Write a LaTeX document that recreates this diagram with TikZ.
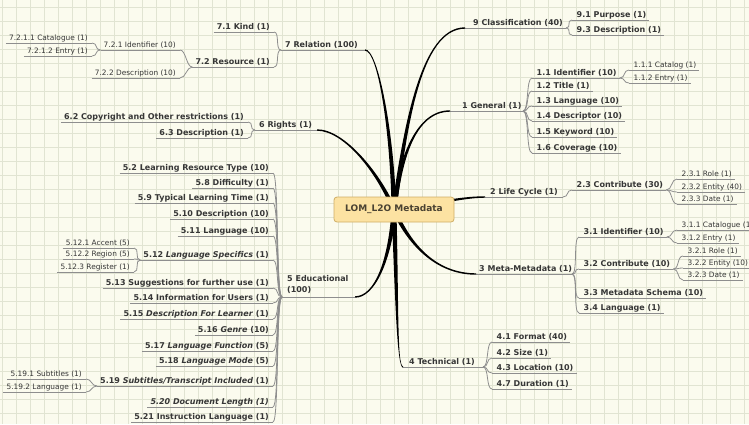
\documentclass[tikz,border=0pt]{standalone}
\usepackage{fontspec}
\setmainfont{DejaVu Sans}
\definecolor{paper}{HTML}{FBFBEE}
\definecolor{gridc}{HTML}{E1E4D2}
\definecolor{ink}{HTML}{363636}
\definecolor{wire}{HTML}{8E8E8E}
\definecolor{boxfill}{HTML}{FCE2A2}
\definecolor{boxedge}{HTML}{CFAE66}
\definecolor{boxtext}{HTML}{4A4232}

\tikzset{
  big/.style={font=\bfseries\fontsize{8}{11}\selectfont, text=ink, inner sep=0pt, yshift=1pt},
  small/.style={font=\fontsize{7.4}{8}\selectfont, text=ink, inner sep=0pt, yshift=0.2pt},
  uline/.style={draw=wire, line width=0.8pt},
  conn/.style={draw=wire, line width=0.8pt},
  trunk/.style={fill=black},
  gridline/.style={draw=gridc, line width=0.5pt},
  rootbox/.style={draw=boxedge, fill=boxfill, rounded corners=3pt, line width=0.8pt,
    minimum width=120pt, minimum height=25pt, inner sep=0pt,
    font=\bfseries\fontsize{9}{11}\selectfont, text=boxtext}
}

% main topic: name, left end, right end, y, text x, text
\newcommand\mainT[6]{%
  \coordinate (#1-L) at (#2,#4);
  \coordinate (#1-R) at (#3,#4);
  \draw[uline] (#1-L) -- (#1-R);
  \node[big, anchor=base west] (#1) at (#5,#4-2) {#6};}
% topic on the left: name, right end, y, style, text
\newcommand\leftT[5]{%
  \coordinate (#1-R) at (#2,#3);
  \node[#4, anchor=base east] (#1) at (#2-4,#3-2) {#5};
  \path (#1.west |- #1-R) ++(-3,0) coordinate (#1-L);
  \draw[uline] (#1-L) -- (#1-R);}
% topic on the right: name, left end, y, style, text
\newcommand\rightT[5]{%
  \coordinate (#1-L) at (#2,#3);
  \node[#4, anchor=base west] (#1) at (#2+4.5,#3-2) {#5};
  \path (#1.east |- #1-L) ++(3,0) coordinate (#1-R);
  \draw[uline] (#1-L) -- (#1-R);}
% grey connectors
\newcommand\linkL[2]{\draw[conn] (#1) .. controls +(-6,0) and +(6,0) .. (#2);}
\newcommand\linkR[2]{\draw[conn] (#1) .. controls +(6,0) and +(-6,0) .. (#2);}
% tapered main branch: start, ctrl1, ctrl2, end, start dx, start dy, end half width (signed)
\newcommand\branch[7]{%
  \coordinate (bA) at (#2);
  \coordinate (bB) at (#3);
  \pgfmathsetmacro\sxp{#5}\pgfmathsetmacro\sxn{0-(#5)}%
  \pgfmathsetmacro\syp{#6}\pgfmathsetmacro\syn{0-(#6)}%
  \pgfmathsetmacro\cxp{0.75*(#5)}\pgfmathsetmacro\cxn{0-0.75*(#5)}%
  \pgfmathsetmacro\cyp{0.75*(#6)}\pgfmathsetmacro\cyn{0-0.75*(#6)}%
  \pgfmathsetmacro\eyp{#7}\pgfmathsetmacro\eyn{0-(#7)}%
  \pgfmathsetmacro\fyp{1.3*(#7)}\pgfmathsetmacro\fyn{0-1.3*(#7)}%
  \fill[trunk] ([shift={(\sxp,\syp)}]#1) .. controls ([shift={(\cxp,\cyp)}]bA) and ([yshift=\fyp pt]bB)
     .. ([yshift=\eyp pt]#4) -- ([yshift=\eyn pt]#4) .. controls ([yshift=\fyn pt]bB) and ([shift={(\cxn,\cyn)}]bA)
     .. ([shift={(\sxn,\syn)}]#1) -- cycle;}

\begin{document}
\begin{tikzpicture}[x=1pt, y=-1pt]
\fill[paper] (0,0) rectangle (749,424);
\useasboundingbox (0,0) rectangle (749,424);
\foreach \gx in {2,16,...,744} \draw[gridline] (\gx,0) -- (\gx,424);
\foreach \gy in {7,21,...,420} \draw[gridline] (0,\gy) -- (749,\gy);

% ---------- main topics ----------
\mainT{t7}{281}{365}{50}{285}{7 Relation (100)}
\mainT{t6}{255}{317}{130}{259}{6 Rights (1)}
\coordinate (t5-L) at (282,297);
\coordinate (t5-R) at (355,297);
\draw[uline] (t5-L) -- (t5-R);
\node[big, align=left, anchor=south west] (t5) at (287,295) {5 Educational\\(100)};
\mainT{t9}{465}{566}{28}{473}{9 Classification (40)}
\mainT{t1}{450}{523}{111}{462}{1 General (1)}
\mainT{t2}{485}{563}{197}{490}{2 Life Cycle (1)}
\mainT{t3}{476}{572}{274}{479}{3 Meta-Metadata (1)}
\mainT{t4}{403}{483}{367}{409}{4 Technical (1)}

% ---------- thick branches from the root ----------
\coordinate (hub) at (394,210);
\branch{hub}{392,130}{378,50}{t7-R}{2.4}{0}{0.7}
\branch{hub}{380,175}{345,130}{t6-R}{2.4}{0}{0.7}
\branch{hub}{390,260}{375,297}{t5-R}{2.4}{0}{-0.7}
\branch{hub}{405,130}{420,28}{t9-L}{2.4}{0}{-0.7}
\branch{hub}{400,160}{415,111}{t1-L}{2.4}{0}{-0.7}
\branch{hub}{412,250}{440,274}{t3-L}{2.4}{0}{0.7}
\branch{hub}{397,300}{397,367}{t4-L}{2.4}{0}{0.7}
\branch{hub}{430,205}{460,197}{t2-L}{0}{2.2}{-0.7}

\node[rootbox] (root) at (394,209.5) {LOM\_L2O Metadata};

% ---------- 7 Relation ----------
\leftT{t71}{274}{32}{big}{7.1 Kind (1)}
\leftT{t72}{274}{67}{big}{7.2 Resource (1)}
\leftT{t721}{180}{50}{small}{7.2.1 Identifier (10)}
\leftT{t722}{180}{78}{small}{7.2.2 Description (10)}
\leftT{t7211}{92}{43}{small}{7.2.1.1 Catalogue (1)}
\leftT{t7212}{92}{56}{small}{7.2.1.2 Entry (1)}
\linkL{t7-L}{t71-R}
\linkL{t7-L}{t72-R}
\linkL{t72-L}{t721-R}
\linkL{t72-L}{t722-R}
\linkL{t721-L}{t7211-R}
\linkL{t721-L}{t7212-R}

% ---------- 6 Rights ----------
\leftT{t62}{248}{122}{big}{6.2 Copyright and Other restrictions (1)}
\leftT{t63}{248}{138}{big}{6.3 Description (1)}
\linkL{t6-L}{t62-R}
\linkL{t6-L}{t63-R}

% ---------- 5 Educational ----------
\leftT{t52}{273}{173}{big}{5.2 Learning Resource Type (10)}
\leftT{t58}{273}{188}{big}{5.8 Difficulty (1)}
\leftT{t59}{273}{203}{big}{5.9 Typical Learning Time (1)}
\leftT{t510}{273}{219}{big}{5.10 Description (10)}
\leftT{t511}{273}{236}{big}{5.11 Language (10)}
\leftT{t512}{273}{260}{big}{5.12 \textit{Language Specifics} (1)}
\leftT{t513}{273}{288}{big}{5.13 Suggestions for further use (1)}
\leftT{t514}{273}{303}{big}{5.14 Information for Users (1)}
\leftT{t515}{273}{319}{big}{5.15 \textit{Description For Learner} (1)}
\leftT{t516}{273}{335}{big}{5.16 \textit{Genre} (10)}
\leftT{t517}{273}{351}{big}{5.17 \textit{Language Function} (5)}
\leftT{t518}{273}{366}{big}{5.18 \textit{Language Mode} (5)}
\leftT{t519}{273}{386}{big}{5.19 \textit{Subtitles/Transcript Included} (1)}
\leftT{t520}{273}{407}{big}{\textit{5.20 Document Length (1)}}
\leftT{t521}{273}{422}{big}{5.21 Instruction Language (1)}
\foreach \c in {t52,t58,t59,t510,t511,t512,t513,t514,t515,t516,t517,t518,t519,t520,t521}
  {\linkL{t5-L}{\c-R}}
\leftT{t5121}{134}{248}{small}{5.12.1 Accent (5)}
\leftT{t5122}{134}{259}{small}{5.12.2 Region (5)}
\leftT{t5123}{134}{272}{small}{5.12.3 Register (1)}
\linkL{t512-L}{t5121-R}
\linkL{t512-L}{t5122-R}
\linkL{t512-L}{t5123-R}
\leftT{t5191}{86}{379}{small}{5.19.1 Subtitles (1)}
\leftT{t5192}{86}{392}{small}{5.19.2 Language (1)}
\linkL{t519-L}{t5191-R}
\linkL{t519-L}{t5192-R}

% ---------- 9 Classification ----------
\rightT{t91}{572}{20}{big}{9.1 Purpose (1)}
\rightT{t93}{572}{35}{big}{9.3 Description (1)}
\linkR{t9-R}{t91-L}
\linkR{t9-R}{t93-L}

% ---------- 1 General ----------
\rightT{t11}{532}{78}{big}{1.1 Identifier (10)}
\rightT{t12}{532}{91}{big}{1.2 Title (1)}
\rightT{t13}{532}{106}{big}{1.3 Language (10)}
\rightT{t14}{532}{121}{big}{1.4 Descriptor (10)}
\rightT{t15}{532}{137}{big}{1.5 Keyword (10)}
\rightT{t16}{532}{153}{big}{1.6 Coverage (10)}
\foreach \c in {t11,t12,t13,t14,t15,t16} {\linkR{t1-R}{\c-L}}
\rightT{t111}{629}{70}{small}{1.1.1 Catalog (1)}
\rightT{t112}{629}{83}{small}{1.1.2 Entry (1)}
\linkR{t11-R}{t111-L}
\linkR{t11-R}{t112-L}

% ---------- 2 Life Cycle ----------
\rightT{t23}{572}{190}{big}{2.3 Contribute (30)}
\linkR{t2-R}{t23-L}
\rightT{t231}{677}{179}{small}{2.3.1 Role (1)}
\rightT{t232}{677}{192}{small}{2.3.2 Entity (40)}
\rightT{t233}{677}{204}{small}{2.3.3 Date (1)}
\foreach \c in {t231,t232,t233} {\linkR{t23-R}{\c-L}}

% ---------- 3 Meta-Metadata ----------
\rightT{t31}{579}{237}{big}{3.1 Identifier (10)}
\rightT{t32}{579}{269}{big}{3.2 Contribute (10)}
\rightT{t33}{579}{298}{big}{3.3 Metadata Schema (10)}
\rightT{t34}{579}{313}{big}{3.4 Language (1)}
\foreach \c in {t31,t32,t33,t34} {\linkR{t3-R}{\c-L}}
\rightT{t311}{677}{230}{small}{3.1.1 Catalogue (1)}
\rightT{t312}{677}{243}{small}{3.1.2 Entry (1)}
\linkR{t31-R}{t311-L}
\linkR{t31-R}{t312-L}
\rightT{t321}{683}{256}{small}{3.2.1 Role (1)}
\rightT{t322}{683}{268}{small}{3.2.2 Entity (10)}
\rightT{t323}{683}{280}{small}{3.2.3 Date (1)}
\foreach \c in {t321,t322,t323} {\linkR{t32-R}{\c-L}}

% ---------- 4 Technical ----------
\rightT{t41}{492}{342}{big}{4.1 Format (40)}
\rightT{t42}{492}{358}{big}{4.2 Size (1)}
\rightT{t43}{492}{373}{big}{4.3 Location (10)}
\rightT{t44}{492}{389}{big}{4.7 Duration (1)}
\foreach \c in {t41,t42,t43,t44} {\linkR{t4-R}{\c-L}}
\end{tikzpicture}
\end{document}
